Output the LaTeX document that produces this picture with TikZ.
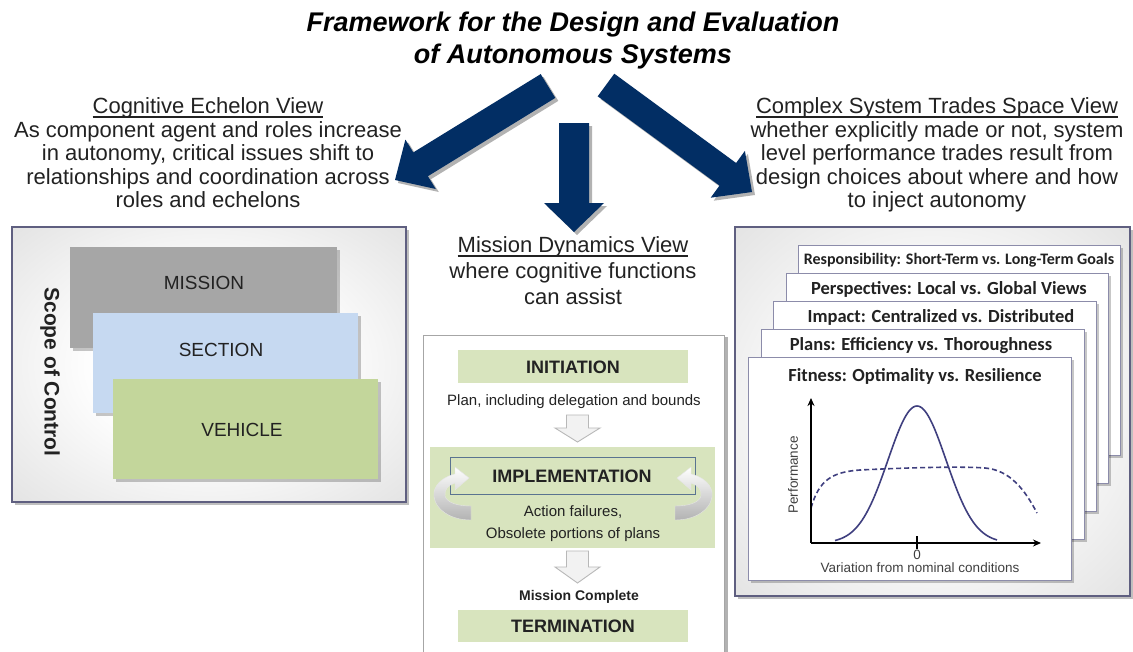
\documentclass[tikz,border=0pt]{standalone}
\usepackage{fontspec}
\setmainfont{Liberation Sans}
\newfontfamily\cardfont{Carlito}
\usetikzlibrary{shadows,arrows.meta,calc}
\definecolor{arrowblue}{RGB}{2,46,100}
\definecolor{textc}{HTML}{222222}
\definecolor{missiongray}{HTML}{A6A6A6}
\definecolor{sectionblue}{HTML}{C6D9F1}
\definecolor{vehiclegreen}{HTML}{C3D69B}
\definecolor{palegreen}{HTML}{D8E4BE}
\definecolor{implborder}{HTML}{5A7390}
\definecolor{panelborder}{HTML}{5F5F80}
\definecolor{cardborder}{HTML}{8C8CAA}
\definecolor{curvecol}{HTML}{3F3F7F}
\definecolor{chartc}{HTML}{404040}
\pgfdeclareradialshading{panelshade}{\pgfpoint{0bp}{0bp}}{color(0bp)=(white); color(14bp)=(white); color(38bp)=(black!12); color(50bp)=(black!19); color(72bp)=(black!24)}
\def\myul#1{\setbox0\hbox{#1}\rlap{\rule[-4.5pt]{\wd0}{1.1pt}}\box0}
\begin{document}
\begin{tikzpicture}[x=1pt,y=-1pt,
  txt/.style={inner sep=0pt, anchor=base, text=textc},
  view/.style={txt, font=\fontsize{22}{24}\selectfont},
  ttl/.style={txt, text=black, font=\bfseries\itshape\fontsize{27}{27}\selectfont},
  bigarrow/.style={fill=arrowblue, drop shadow={shadow xshift=3pt, shadow yshift=-3pt, opacity=0.3, fill=black}},
  softshadow/.style={drop shadow={shadow xshift=3pt, shadow yshift=-3pt, opacity=0.22, fill=black}},
  panel/.style={draw=panelborder, line width=1.3pt, shading=panelshade,
      drop shadow={shadow xshift=3pt, shadow yshift=-3pt, opacity=0.25, fill=black}},
  levellbl/.style={txt, anchor=center, font=\fontsize{19}{19}\selectfont},
  phaselbl/.style={txt, anchor=center, font=\bfseries\fontsize{18}{18}\selectfont},
  midtxt/.style={txt, font=\fontsize{15}{15}\selectfont},
  cardbox/.style={draw=cardborder, line width=0.9pt, fill=white, drop shadow={shadow xshift=3pt, shadow yshift=-3pt, opacity=0.22, fill=black}},
  cardtxt/.style={txt, font=\cardfont\bfseries\fontsize{18.5}{18.5}\selectfont},
  charttxt/.style={txt, text=chartc, font=\fontsize{13.5}{13.5}\selectfont},
  hollow/.style={fill=black!5, draw=black!28, line width=0.9pt},
  curvearr/.style={top color=white, bottom color=black!30, draw=black!10, line width=0.4pt}
]
\useasboundingbox[fill=white] (0,0) rectangle (1133,651);

% ---------- title ----------
\node[ttl] (title1) at (573,31.5) {Framework for the Design and Evaluation};
\node[ttl] (title2) at (573,63.5) {of Autonomous Systems};

% ---------- big arrows ----------
\fill[bigarrow] (540.7,74.1) -- (555.3,97.9) -- (427.9,176.2) -- (435.8,189.0) -- (395,180) -- (405.4,139.6) -- (413.3,152.4) -- cycle;
\fill[bigarrow] (559,123) -- (589,123) -- (589,203) -- (604,203) -- (574,232) -- (544,203) -- (559,203) -- cycle;
\fill[bigarrow] (614.3,73.7) -- (597.7,96.3) -- (719.5,185.6) -- (710.7,197.7) -- (752,192) -- (744.9,150.9) -- (736.1,163.0) -- cycle;

% ---------- left view text ----------
\node[view] (lh)  at (208,113)   {\myul{Cognitive Echelon View}};
\node[view] (l1)  at (208,137)   {As component agent and roles increase};
\node[view] (l2)  at (208,160.5) {in autonomy, critical issues shift to};
\node[view] (l3)  at (208,184)   {relationships and coordination across};
\node[view] (l4)  at (208,207.5) {roles and echelons};

% ---------- right view text ----------
\node[view] (rh)  at (937,113)   {\myul{Complex System Trades Space View}};
\node[view] (r1)  at (937,137)   {whether explicitly made or not, system};
\node[view] (r2)  at (937,160.5) {level performance trades result from};
\node[view] (r3)  at (937,184)   {design choices about where and how};
\node[view] (r4)  at (937,207.5) {to inject autonomy};

% ---------- middle view text ----------
\node[view] (mh)  at (573,252) {\myul{Mission Dynamics View}};
\node[view] (m1)  at (573,278) {where cognitive functions};
\node[view] (m2)  at (573,304) {can assist};

% ---------- left panel ----------
\draw[panel] (12,227) rectangle (406,502);
\fill[missiongray, softshadow] (70,247) rectangle (337,348);
\fill[sectionblue, softshadow] (93,313) rectangle (358,413);
\fill[vehiclegreen, softshadow] (113,379) rectangle (378,479);
\node[levellbl] (mission) at (204,283) {MISSION};
\node[levellbl] (section) at (221,350) {SECTION};
\node[levellbl] (vehicle) at (242,430) {VEHICLE};
\node[txt, anchor=center, rotate=-90, font=\bfseries\fontsize{21}{21}\selectfont] (scope) at (50,372) {Scope of Control};

% ---------- middle panel ----------
\draw[draw=black!35, line width=0.9pt, fill=white,
      drop shadow={shadow xshift=4pt, shadow yshift=-2pt, opacity=0.3, fill=black}] (423,335) rectangle (724,668);
\fill[palegreen] (458,350) rectangle (688,383);
\node[phaselbl] (init) at (573,367) {INITIATION};
\node[midtxt] (plan) at (574,405) {Plan, including delegation and bounds};
\draw[hollow] (566.5,415) -- (588.5,415) -- (588.5,428) -- (600,428) -- (577.5,442) -- (555,428) -- (566.5,428) -- cycle;
\fill[palegreen] (430,447) rectangle (715,548);
\draw[implborder, line width=0.9pt] (450,457) rectangle (695,494);
\node[phaselbl] (impl) at (572,476) {IMPLEMENTATION};
\node[midtxt] (fail1) at (573,516) {Action failures,};
\node[midtxt] (fail2) at (573,538) {Obsolete portions of plans};
% curved feedback arrows
\path[curvearr]
  (471,520) .. controls (446,520) and (432,505) .. (434,492)
  .. controls (436,482) and (446,476) .. (455,474)
  -- (455,467) -- (469,478) -- (455,490) -- (455,483)
  .. controls (448,485) and (444,490) .. (445,496)
  .. controls (447,503) and (458,506) .. (471,506) -- cycle;
\begin{scope}[shift={(1146,0)}, xscale=-1]
\path[curvearr]
  (471,520) .. controls (446,520) and (432,505) .. (434,492)
  .. controls (436,482) and (446,476) .. (455,474)
  -- (455,467) -- (469,478) -- (455,490) -- (455,483)
  .. controls (448,485) and (444,490) .. (445,496)
  .. controls (447,503) and (458,506) .. (471,506) -- cycle;
\end{scope}
\draw[hollow] (566.5,551) -- (588.5,551) -- (588.5,567) -- (600,567) -- (577.5,583) -- (555,567) -- (566.5,567) -- cycle;
\node[txt, font=\bfseries\fontsize{14}{14}\selectfont] (done) at (579,600) {Mission Complete};
\fill[palegreen] (458,610) rectangle (688,642);
\node[phaselbl] (term) at (573,626) {TERMINATION};

% ---------- right panel ----------
\draw[panel] (735,227) rectangle (1130,596);
\draw[cardbox] (798,245) rectangle (1120,455);
\draw[cardbox] (786,273) rectangle (1108,483);
\draw[cardbox] (773,301) rectangle (1096,511);
\draw[cardbox] (761,329) rectangle (1084,539);
\draw[cardbox] (748,357) rectangle (1071,580);
\node[cardtxt, font=\cardfont\bfseries\fontsize{16}{16}\selectfont] (resp) at (959,264) {Responsibility: Short-Term vs. Long-Term Goals};
\node[cardtxt] (persp) at (949,294) {Perspectives: Local vs. Global Views};
\node[cardtxt] (impact) at (941,322) {Impact: Centralized vs. Distributed};
\node[cardtxt] (plans) at (921,350) {Plans: Efficiency vs. Thoroughness};
\node[cardtxt] (fit) at (915,381) {Fitness: Optimality vs. Resilience};

% chart
\coordinate (orig) at (811,543);
\coordinate (ytop) at (811,398);
\coordinate (xend) at (1041,543);
\draw[curvecol, line width=1.6pt, dash pattern=on 5pt off 3pt]
  (811,508) .. controls (819,480) and (832,472) .. (860,470)
  .. controls (900,468) and (960,466) .. (985,468)
  .. controls (1010,470) and (1025,490) .. (1037,513);
\draw[curvecol, line width=1.6pt] plot[domain=835:997, samples=90, smooth] (\x, {543-137*exp(-((\x-917)^2)/1682)});
\draw[black, line width=1.5pt, -{Stealth[length=8pt,width=7pt]}] (orig) -- (ytop);
\draw[black, line width=1.5pt, -{Stealth[length=8pt,width=7pt]}] (orig) -- (xend);
\draw[black, line width=1.5pt] (917,536) -- (917,549);
\node[charttxt] (zero) at (917,559) {0};
\node[charttxt] (xlab) at (920,572) {Variation from nominal conditions};
\node[charttxt, anchor=center, rotate=90] (ylab) at (793,475) {Performance};
\end{tikzpicture}
\end{document}
